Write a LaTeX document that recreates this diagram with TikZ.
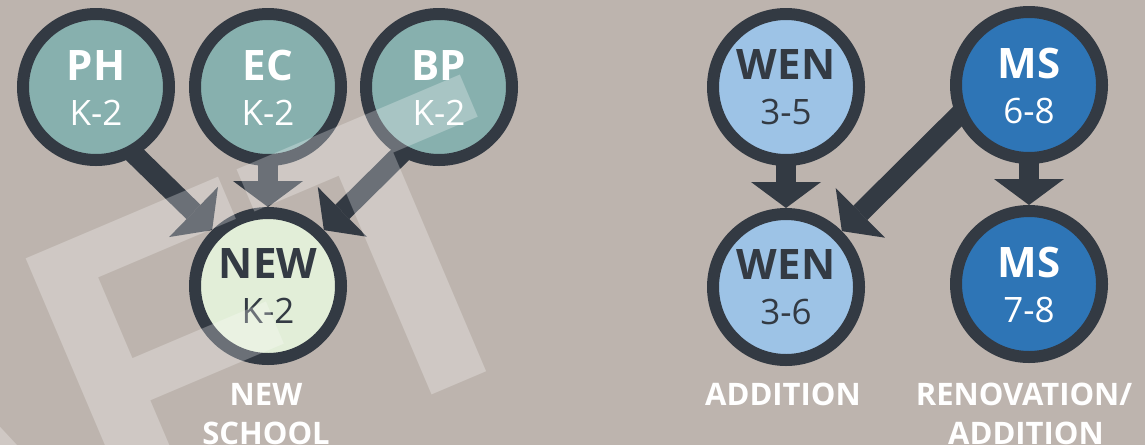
\documentclass[tikz,border=0pt]{standalone}
\usepackage{fontspec}
\setmainfont{Open Sans}
\newfontfamily\wmfont{Liberation Sans}
\usetikzlibrary{arrows.meta}
\pgfdeclarelayer{back}
\pgfdeclarelayer{arrowlayer}
\pgfdeclarelayer{front}
\pgfsetlayers{back,arrowlayer,main,front}
\definecolor{bgc}{HTML}{BDB4AE}
\definecolor{ink}{HTML}{333A43}
\definecolor{tealc}{HTML}{87B0AE}
\definecolor{newc}{HTML}{E2EED8}
\definecolor{wenc}{HTML}{9DC3E6}
\definecolor{msc}{HTML}{2E75B6}
\begin{document}
\begin{tikzpicture}[x=1pt,y=-1pt,
  school/.style={circle, draw=ink, line width=12pt, minimum size=146pt, inner sep=0pt, outer sep=6pt},
  title/.style={anchor=base, inner sep=0pt, font=\fontsize{42}{42}\selectfont\bfseries},
  grade/.style={anchor=base, inner sep=0pt, font=\fontsize{35}{35}\selectfont},
  caption/.style={anchor=base, inner sep=0pt, text=white, font=\fontsize{31}{31}\selectfont\bfseries},
  flow/.style={draw=ink, line width=20pt, shorten <=-20pt, -{Triangle[width=70pt,length=26pt,line width=0pt]}}
]
\useasboundingbox (0,0) rectangle (1145,445);
\begin{pgfonlayer}{back}
  \fill[bgc] (0,0) rectangle (1145,445);
\end{pgfonlayer}

% circles
\node[school, fill=tealc] (ph)   at (96,87)   {};
\node[school, fill=tealc] (ec)   at (268,87)  {};
\node[school, fill=tealc] (bp)   at (439,87)  {};
\node[school, fill=newc]  (new)  at (268,286) {};
\node[school, fill=wenc]  (wen1) at (786,87)  {};
\node[school, fill=msc]   (ms1)  at (1029,85) {};
\node[school, fill=wenc]  (wen2) at (786,287) {};
\node[school, fill=msc]   (ms2)  at (1029,284) {};

% circle texts
\node[title, text=white] (ph-t) at ([yshift=7pt]ph.center) {PH};
\node[grade, text=white] (ph-g) at ([yshift=-38pt]ph.center) {K-2};
\node[title, text=white] (ec-t) at ([yshift=7pt]ec.center) {EC};
\node[grade, text=white] (ec-g) at ([yshift=-38pt]ec.center) {K-2};
\node[title, text=white] (bp-t) at ([yshift=7pt]bp.center) {BP};
\node[grade, text=white] (bp-g) at ([yshift=-38pt]bp.center) {K-2};
\node[title, text=ink] (new-t) at ([yshift=8pt]new.center) {NEW};
\node[grade, text=ink] (new-g) at ([yshift=-37pt]new.center) {K-2};
\node[title, text=ink] (wen1-t) at ([yshift=8pt]wen1.center) {WEN};
\node[grade, text=ink] (wen1-g) at ([yshift=-37pt]wen1.center) {3-5};
\node[title, text=white] (ms1-t) at ([yshift=7pt]ms1.center) {MS};
\node[grade, text=white] (ms1-g) at ([yshift=-38pt]ms1.center) {6-8};
\node[title, text=ink] (wen2-t) at ([yshift=8pt]wen2.center) {WEN};
\node[grade, text=ink] (wen2-g) at ([yshift=-37pt]wen2.center) {3-6};
\node[title, text=white] (ms2-t) at ([yshift=7pt]ms2.center) {MS};
\node[grade, text=white] (ms2-g) at ([yshift=-38pt]ms2.center) {7-8};

% arrows
\begin{pgfonlayer}{arrowlayer}
  \draw[flow] (ph.300) -- (new.135);
  \draw[flow] (ec) -- (new);
  \draw[flow] (bp.240) -- (new.45);
  \draw[flow] (wen1) -- (wen2);
  \draw[flow] (ms1.204) -- (wen2.45);
  \draw[flow] (ms1) -- (ms2);
\end{pgfonlayer}

% captions
\node[caption] (cap-new1) at (266,405) {NEW};
\node[caption] (cap-new2) at (266,444) {SCHOOL};
\node[caption] (cap-add)  at (783,405) {ADDITION};
\node[caption] (cap-ren1) at (1024,405) {RENOVATION/};
\node[caption] (cap-ren2) at (1026,444) {ADDITION};

% watermark
\begin{pgfonlayer}{front}
  \begin{scope}
    \clip (0,0) rectangle (1145,445);
    \node[anchor=base east, inner sep=0pt, rotate=23, text=white, text opacity=0.28,
          font=\wmfont\bfseries\fontsize{412}{412}\selectfont] (wm) at (575,334) {DRAFT};
  \end{scope}
\end{pgfonlayer}
\end{tikzpicture}
\end{document}
